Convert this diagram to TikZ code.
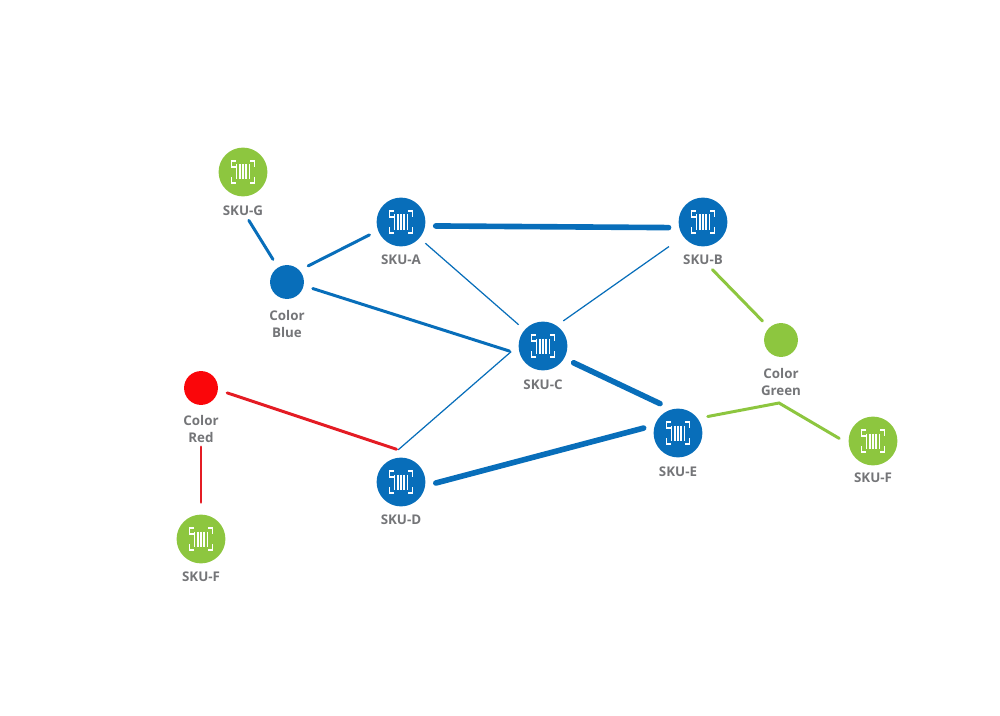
\documentclass[tikz,border=0pt]{standalone}
\usepackage{fontspec}
\setmainfont{Open Sans}
\usetikzlibrary{positioning}
\definecolor{skublue}{RGB}{8,110,186}
\definecolor{skugreen}{RGB}{141,198,63}
\definecolor{skured}{RGB}{250,6,10}
\definecolor{linkred}{RGB}{228,28,36}
\definecolor{skugray}{RGB}{116,117,120}

\begin{document}
\begin{tikzpicture}[
  x=0.02cm,y=-0.02cm,
  sku/.style={circle,minimum size=49*0.567pt,inner sep=0pt,outer sep=4.5pt},
  colordot/.style={circle,minimum size=34*0.567pt,inner sep=0pt,outer sep=4.5pt},
  blu/.style={fill=skublue},
  grn/.style={fill=skugreen},
  rd/.style={fill=skured},
  lbl/.style={font=\fontsize{7.6}{9.2}\selectfont\bfseries,text=skugray,align=center,inner sep=1.5pt},
  thinln/.style={line width=0.7pt},
  midln/.style={line width=1.7pt,line cap=round,shorten <=1pt,shorten >=1pt},
  thickln/.style={line width=3.2pt,line cap=round,shorten <=1.5pt,shorten >=1.5pt},
  bars/.pic={
    \draw[white,line width=0.8pt]
      (-7,-5) -- (-11.5,-5) -- (-11.5,-11) -- (-7,-11) (7,-11) -- (11.5,-11) -- (11.5,-5)
      (11.5,5) -- (11.5,11) -- (7,11) (-7,11) -- (-11.5,11) -- (-11.5,5);
    \foreach \bx in {-6.6,-3.3,0,3.3,6.6}
      \draw[white,line width=1pt] (\bx,-7.5) -- (\bx,7.5);
  }]

  \useasboundingbox (0,0) rectangle (1000,716);

  \node[sku,grn] (skuG) at (243,172) {};
  \node[sku,blu] (skuA) at (401,222) {};
  \node[sku,blu] (skuB) at (703,222) {};
  \node[sku,blu] (skuC) at (543,346) {};
  \node[sku,blu] (skuD) at (401,482) {};
  \node[sku,blu] (skuE) at (678,433) {};
  \node[sku,grn] (skuFa) at (873,441) {};
  \node[sku,grn] (skuFb) at (201,539) {};

  \node[colordot,blu] (dotBlue) at (287,282) {};
  \node[colordot,rd] (dotRed) at (201,388) {};
  \node[colordot,grn] (dotGreen) at (781,340) {};

  \foreach \n in {skuG,skuA,skuB,skuC,skuD,skuE,skuFa,skuFb}
    \pic at (\n) {bars};

  \node[lbl] (lblG) at (243,211) {SKU-G};
  \node[lbl] (lblA) at (401,260) {SKU-A};
  \node[lbl] (lblB) at (703,260) {SKU-B};
  \node[lbl] (lblC) at (543,385) {SKU-C};
  \node[lbl] (lblD) at (401,520) {SKU-D};
  \node[lbl] (lblE) at (678,472) {SKU-E};
  \node[lbl] (lblFa) at (873,478) {SKU-F};
  \node[lbl] (lblFb) at (201,577) {SKU-F};
  \node[lbl] (lblBlue) at (287,324) {Color\\Blue};
  \node[lbl] (lblRed) at (201,429) {Color\\Red};
  \node[lbl] (lblGreen) at (781,382) {Color\\Green};

  \coordinate (greenJoin) at (779,403);

  % blue links
  \draw[skublue,thickln] (skuA.-7) -- (skuB.190);
  \draw[skublue,thickln] (skuC.-29) -- (skuE.119);
  \draw[skublue,thickln] (skuD.-3) -- (skuE.170);
  \draw[skublue,thinln] (skuA) -- (skuC);
  \draw[skublue,thinln,shorten <=5.5pt] (skuB.216) -- (skuC.51);
  \draw[skublue,thinln] (skuD.95) -- (skuC.190);
  \draw[skublue,midln] (lblG) -- (dotBlue);
  \draw[skublue,midln] (dotBlue.38) -- (skuA.202);
  \draw[skublue,midln] (dotBlue.-14) -- (skuC.190);

  % red links
  \draw[linkred,midln] (dotRed.-10) -- (skuD.95);
  \draw[linkred,midln,shorten >=2.5pt] (lblRed) -- (skuFb);

  % green links
  \draw[skugreen,midln,shorten <=1.5pt] (lblB) -- (dotGreen);
  \draw[skugreen,midln] (skuE.30) -- (greenJoin) -- (skuFa.177);
\end{tikzpicture}
\end{document}
